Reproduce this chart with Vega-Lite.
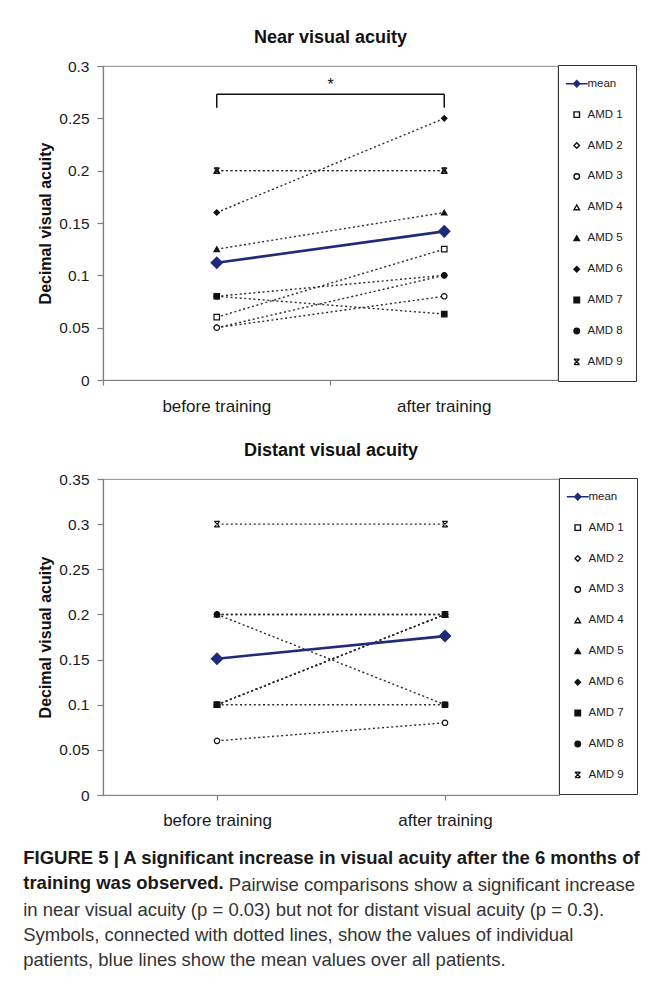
{
  "$schema": "https://vega.github.io/schema/vega-lite/v6.json",
  "background": "white",
  "padding": {"left": 23, "top": 28, "right": 0, "bottom": 0},
  "datasets": {
    "near": [
      {"patient": "AMD 1", "session": "before training", "acuity": 0.06},
      {"patient": "AMD 1", "session": "after training", "acuity": 0.125},
      {"patient": "AMD 2", "session": "before training", "acuity": 0.05},
      {"patient": "AMD 2", "session": "after training", "acuity": 0.1},
      {"patient": "AMD 3", "session": "before training", "acuity": 0.05},
      {"patient": "AMD 3", "session": "after training", "acuity": 0.08},
      {"patient": "AMD 4", "session": "before training", "acuity": 0.2},
      {"patient": "AMD 4", "session": "after training", "acuity": 0.2},
      {"patient": "AMD 5", "session": "before training", "acuity": 0.125},
      {"patient": "AMD 5", "session": "after training", "acuity": 0.16},
      {"patient": "AMD 6", "session": "before training", "acuity": 0.16},
      {"patient": "AMD 6", "session": "after training", "acuity": 0.25},
      {"patient": "AMD 7", "session": "before training", "acuity": 0.08},
      {"patient": "AMD 7", "session": "after training", "acuity": 0.063},
      {"patient": "AMD 8", "session": "before training", "acuity": 0.08},
      {"patient": "AMD 8", "session": "after training", "acuity": 0.1},
      {"patient": "AMD 9", "session": "before training", "acuity": 0.2},
      {"patient": "AMD 9", "session": "after training", "acuity": 0.2}
    ],
    "nearMean": [
      {"patient": "mean", "session": "before training", "acuity": 0.112},
      {"patient": "mean", "session": "after training", "acuity": 0.142}
    ],
    "distant": [
      {"patient": "AMD 1", "session": "before training", "acuity": 0.1},
      {"patient": "AMD 1", "session": "after training", "acuity": 0.2},
      {"patient": "AMD 2", "session": "before training", "acuity": 0.1},
      {"patient": "AMD 2", "session": "after training", "acuity": 0.2},
      {"patient": "AMD 3", "session": "before training", "acuity": 0.06},
      {"patient": "AMD 3", "session": "after training", "acuity": 0.08},
      {"patient": "AMD 4", "session": "before training", "acuity": 0.1},
      {"patient": "AMD 4", "session": "after training", "acuity": 0.2},
      {"patient": "AMD 5", "session": "before training", "acuity": 0.2},
      {"patient": "AMD 5", "session": "after training", "acuity": 0.2},
      {"patient": "AMD 6", "session": "before training", "acuity": 0.2},
      {"patient": "AMD 6", "session": "after training", "acuity": 0.2},
      {"patient": "AMD 7", "session": "before training", "acuity": 0.1},
      {"patient": "AMD 7", "session": "after training", "acuity": 0.1},
      {"patient": "AMD 8", "session": "before training", "acuity": 0.2},
      {"patient": "AMD 8", "session": "after training", "acuity": 0.1},
      {"patient": "AMD 9", "session": "before training", "acuity": 0.3},
      {"patient": "AMD 9", "session": "after training", "acuity": 0.3}
    ],
    "distantMean": [
      {"patient": "mean", "session": "before training", "acuity": 0.151},
      {"patient": "mean", "session": "after training", "acuity": 0.176}
    ],
    "bracketSpan": [
      {"from": "before training", "to": "after training", "level": 0.273}
    ],
    "bracketEnds": [
      {"session": "before training", "low": 0.26, "high": 0.273},
      {"session": "after training", "low": 0.26, "high": 0.273}
    ],
    "star": [
      {"session": "before training", "level": 0.282, "label": "*"}
    ]
  },
  "spacing": 26,
  "vconcat": [
    {
      "width": 455,
      "height": 314,
      "title": {"text": "Near visual acuity", "offset": 12},
      "encoding": {
        "x": {
          "field": "session", "type": "nominal",
          "scale": {"domain": ["before training", "after training"], "paddingInner": 0, "paddingOuter": 0},
          "axis": {"title": null, "labelAngle": 0, "bandPosition": 0, "labelPadding": 13, "tickSize": 5, "labelFontSize": 17}
        },
        "y": {
          "field": "acuity", "type": "quantitative",
          "scale": {"domain": [0, 0.3], "nice": false},
          "axis": {"title": "Decimal visual acuity", "values": [0, 0.05, 0.1, 0.15, 0.2, 0.25, 0.3], "format": "~g", "titlePadding": 5, "labelPadding": 8, "tickSize": 6}
        }
      },
      "layer": [
        {
          "data": {"name": "near"},
          "mark": {"type": "line", "color": "#2b2b2b", "strokeWidth": 1.4, "strokeDash": [2, 2.6]},
          "encoding": {"detail": {"field": "patient"}}
        },
        {
          "data": {"name": "nearMean"},
          "mark": {"type": "line", "color": "#1f2a78", "strokeWidth": 2.6}
        },
        {
          "data": {"name": "near"},
          "mark": {"type": "point", "size": 30, "strokeWidth": 1.2, "opacity": 1},
          "encoding": {
            "shape": {
              "field": "patient", "type": "nominal",
              "scale": {
                "domain": ["mean", "AMD 1", "AMD 2", "AMD 3", "AMD 4", "AMD 5", "AMD 6", "AMD 7", "AMD 8", "AMD 9"],
                "range": ["M-4,0H4M-1.15,0L0,-1.15L1.15,0L0,1.15Z", "square", "diamond", "circle", "triangle-up", "triangle-up", "diamond", "square", "circle", "M-1,-1H1M-1,1H1M-1,-1L1,1M1,-1L-1,1"]
              },
              "legend": {
                "orient": "none", "legendX": 455, "legendY": -1, "title": null,
                "strokeColor": "#333333", "padding": 13, "rowPadding": 17.9,
                "labelFontSize": 11.5, "labelOffset": 5, "symbolSize": 30, "symbolStrokeWidth": 1.4,
                "labelColor": "#222222"
              }
            },
            "fill": {
              "field": "patient", "type": "nominal",
              "scale": {
                "domain": ["mean", "AMD 1", "AMD 2", "AMD 3", "AMD 4", "AMD 5", "AMD 6", "AMD 7", "AMD 8", "AMD 9"],
                "range": ["#1f2a78", "white", "white", "white", "white", "#111111", "#111111", "#111111", "#111111", "#111111"]
              },
              "legend": {
                "orient": "none", "legendX": 455, "legendY": -1, "title": null,
                "strokeColor": "#333333", "padding": 13, "rowPadding": 17.9,
                "labelFontSize": 11.5, "labelOffset": 5, "symbolSize": 30, "symbolStrokeWidth": 1.4,
                "labelColor": "#222222"
              }
            },
            "stroke": {
              "field": "patient", "type": "nominal",
              "scale": {
                "domain": ["mean", "AMD 1", "AMD 2", "AMD 3", "AMD 4", "AMD 5", "AMD 6", "AMD 7", "AMD 8", "AMD 9"],
                "range": ["#1f2a78", "#111111", "#111111", "#111111", "#111111", "#111111", "#111111", "#111111", "#111111", "#111111"]
              },
              "legend": {
                "orient": "none", "legendX": 455, "legendY": -1, "title": null,
                "strokeColor": "#333333", "padding": 13, "rowPadding": 17.9,
                "labelFontSize": 11.5, "labelOffset": 5, "symbolSize": 30, "symbolStrokeWidth": 1.4,
                "labelColor": "#222222"
              }
            }
          }
        },
        {
          "data": {"name": "nearMean"},
          "mark": {"type": "point", "shape": "diamond", "size": 170, "filled": true, "color": "#1f2a78", "opacity": 1}
        },
        {
          "data": {"name": "bracketSpan"},
          "mark": {"type": "rule", "color": "#111111", "strokeWidth": 1.5},
          "encoding": {
            "x": {"field": "from", "type": "nominal"},
            "x2": {"field": "to"},
            "y": {"field": "level", "type": "quantitative"}
          }
        },
        {
          "data": {"name": "bracketEnds"},
          "mark": {"type": "rule", "color": "#111111", "strokeWidth": 1.5},
          "encoding": {
            "y": {"field": "low", "type": "quantitative"},
            "y2": {"field": "high"}
          }
        },
        {
          "data": {"name": "star"},
          "mark": {"type": "text", "fontSize": 16, "baseline": "middle", "color": "#111111"},
          "encoding": {
            "x": {"field": "session", "type": "nominal", "bandPosition": 1},
            "y": {"field": "level", "type": "quantitative"},
            "text": {"field": "label"}
          }
        }
      ]
    },
    {
      "width": 456,
      "height": 316,
      "title": {"text": "Distant visual acuity", "offset": 12},
      "encoding": {
        "x": {
          "field": "session", "type": "nominal",
          "scale": {"domain": ["before training", "after training"], "paddingInner": 0, "paddingOuter": 0},
          "axis": {"title": null, "labelAngle": 0, "bandPosition": 0, "labelPadding": 12, "tickSize": 5, "labelFontSize": 17}
        },
        "y": {
          "field": "acuity", "type": "quantitative",
          "scale": {"domain": [0, 0.35], "nice": false},
          "axis": {"title": "Decimal visual acuity", "values": [0, 0.05, 0.1, 0.15, 0.2, 0.25, 0.3, 0.35], "format": "~g", "titlePadding": 5, "labelPadding": 8, "tickSize": 6}
        }
      },
      "layer": [
        {
          "data": {"name": "distant"},
          "mark": {"type": "line", "color": "#2b2b2b", "strokeWidth": 1.4, "strokeDash": [2, 2.6]},
          "encoding": {"detail": {"field": "patient"}}
        },
        {
          "data": {"name": "distantMean"},
          "mark": {"type": "line", "color": "#1f2a78", "strokeWidth": 2.6}
        },
        {
          "data": {"name": "distant"},
          "mark": {"type": "point", "size": 30, "strokeWidth": 1.2, "opacity": 1},
          "encoding": {
            "shape": {
              "field": "patient", "type": "nominal",
              "scale": {
                "domain": ["mean", "AMD 1", "AMD 2", "AMD 3", "AMD 4", "AMD 5", "AMD 6", "AMD 7", "AMD 8", "AMD 9"],
                "range": ["M-4,0H4M-1.15,0L0,-1.15L1.15,0L0,1.15Z", "square", "diamond", "circle", "triangle-up", "triangle-up", "diamond", "square", "circle", "M-1,-1H1M-1,1H1M-1,-1L1,1M1,-1L-1,1"]
              },
              "legend": {
                "orient": "none", "legendX": 456, "legendY": -1, "title": null,
                "strokeColor": "#333333", "padding": 13, "rowPadding": 17.9,
                "labelFontSize": 11.5, "labelOffset": 5, "symbolSize": 30, "symbolStrokeWidth": 1.4,
                "labelColor": "#222222"
              }
            },
            "fill": {
              "field": "patient", "type": "nominal",
              "scale": {
                "domain": ["mean", "AMD 1", "AMD 2", "AMD 3", "AMD 4", "AMD 5", "AMD 6", "AMD 7", "AMD 8", "AMD 9"],
                "range": ["#1f2a78", "white", "white", "white", "white", "#111111", "#111111", "#111111", "#111111", "#111111"]
              },
              "legend": {
                "orient": "none", "legendX": 456, "legendY": -1, "title": null,
                "strokeColor": "#333333", "padding": 13, "rowPadding": 17.9,
                "labelFontSize": 11.5, "labelOffset": 5, "symbolSize": 30, "symbolStrokeWidth": 1.4,
                "labelColor": "#222222"
              }
            },
            "stroke": {
              "field": "patient", "type": "nominal",
              "scale": {
                "domain": ["mean", "AMD 1", "AMD 2", "AMD 3", "AMD 4", "AMD 5", "AMD 6", "AMD 7", "AMD 8", "AMD 9"],
                "range": ["#1f2a78", "#111111", "#111111", "#111111", "#111111", "#111111", "#111111", "#111111", "#111111", "#111111"]
              },
              "legend": {
                "orient": "none", "legendX": 456, "legendY": -1, "title": null,
                "strokeColor": "#333333", "padding": 13, "rowPadding": 17.9,
                "labelFontSize": 11.5, "labelOffset": 5, "symbolSize": 30, "symbolStrokeWidth": 1.4,
                "labelColor": "#222222"
              }
            }
          }
        },
        {
          "data": {"name": "distantMean"},
          "mark": {"type": "point", "shape": "diamond", "size": 170, "filled": true, "color": "#1f2a78", "opacity": 1}
        }
      ]
    }
  ],
  "resolve": {"scale": {"shape": "independent", "fill": "independent", "stroke": "independent"}},
  "title": {
    "text": ["FIGURE 5 | A significant increase in visual acuity after the 6 months of", "training was observed."],
    "subtitle": ["\u200b\u00a0\u00a0\u00a0\u00a0\u00a0\u00a0\u00a0\u00a0\u00a0\u00a0\u00a0\u00a0\u00a0\u00a0\u00a0\u00a0\u00a0\u00a0\u00a0\u00a0\u00a0\u00a0\u00a0\u00a0\u00a0\u00a0\u00a0\u00a0\u00a0\u00a0\u00a0\u00a0\u00a0\u00a0\u00a0\u00a0\u00a0\u00a0\u00a0\u00a0Pairwise comparisons show a significant increase", "in near visual acuity (p = 0.03) but not for distant visual acuity (p = 0.3).", "Symbols, connected with dotted lines, show the values of individual", "patients, blue lines show the mean values over all patients."],
    "orient": "bottom", "anchor": "start", "frame": "bounds",
    "font": "Liberation Sans", "fontSize": 18.5, "fontWeight": "bold", "color": "#1a1a1a", "lineHeight": 25,
    "subtitleFont": "Liberation Sans", "subtitleFontSize": 18.5, "subtitleFontWeight": "normal", "subtitleColor": "#333333",
    "subtitleLineHeight": 25, "subtitlePadding": -16, "offset": 20, "dx": -14
  },
  "config": {
    "font": "Liberation Sans",
    "view": {"stroke": "#a0a0a0", "strokeWidth": 1.2},
    "axis": {
      "domainColor": "#808080", "tickColor": "#808080", "domainWidth": 1.2, "tickWidth": 1.2,
      "labelColor": "#1a1a1a", "labelFontSize": 15.5, "labelFont": "Liberation Sans",
      "titleFontSize": 16, "titleFontWeight": "bold", "titleFont": "Liberation Sans", "titleColor": "#111111",
      "grid": false, "labelPadding": 5
    },
    "title": {"fontSize": 18, "font": "Liberation Sans", "fontWeight": "bold", "color": "#111111"}
  }
}
